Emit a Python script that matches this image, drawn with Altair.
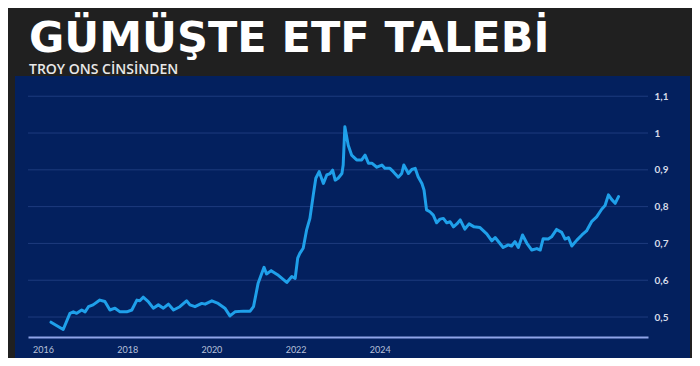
import altair as alt
import pandas as pd

# x values are in the chart's own axis units (as labelled in the picture)
t = [2016.19, 2016.48, 2016.64, 2016.72, 2016.80, 2016.92, 2017.00, 2017.08, 2017.19, 2017.35,
     2017.47, 2017.59, 2017.71, 2017.83, 2017.99, 2018.11, 2018.23, 2018.30, 2018.38, 2018.50,
     2018.62, 2018.74, 2018.86, 2018.98, 2019.10, 2019.25, 2019.41, 2019.49, 2019.61, 2019.77,
     2019.85, 2020.01, 2020.16, 2020.32, 2020.44, 2020.56, 2020.76, 2020.92, 2021.00, 2021.11,
     2021.25, 2021.31, 2021.42, 2021.57, 2021.79, 2021.91, 2021.99, 2022.05, 2022.10, 2022.18,
     2022.26, 2022.34, 2022.42, 2022.48, 2022.56, 2022.66, 2022.74, 2022.82, 2022.88, 2022.94,
     2023.01, 2023.10, 2023.13, 2023.17, 2023.25, 2023.33, 2023.45, 2023.57, 2023.65, 2023.73,
     2023.81, 2023.93, 2024.05, 2024.12, 2024.24, 2024.32, 2024.44, 2024.52, 2024.57, 2024.68,
     2024.76, 2024.84, 2024.91, 2025.00, 2025.05, 2025.11, 2025.19, 2025.27, 2025.35, 2025.43,
     2025.51, 2025.59, 2025.67, 2025.75, 2025.83, 2025.91, 2026.02, 2026.12, 2026.24, 2026.38,
     2026.54, 2026.66, 2026.74, 2026.93, 2027.05, 2027.13, 2027.21, 2027.29, 2027.39, 2027.49,
     2027.61, 2027.73, 2027.81, 2027.88, 2028.00, 2028.08, 2028.20, 2028.32, 2028.40, 2028.48,
     2028.56, 2028.68, 2028.80, 2028.91, 2029.03, 2029.15, 2029.27, 2029.35, 2029.43, 2029.51,
     2029.59, 2029.67]

troy_oz = [0.486, 0.466, 0.510, 0.514, 0.510, 0.519, 0.514, 0.528, 0.533, 0.546,
           0.542, 0.519, 0.524, 0.514, 0.514, 0.519, 0.546, 0.544, 0.554, 0.542,
           0.524, 0.533, 0.524, 0.535, 0.519, 0.528, 0.544, 0.533, 0.528, 0.537,
           0.535, 0.544, 0.537, 0.524, 0.503, 0.514, 0.516, 0.516, 0.528, 0.592,
           0.635, 0.617, 0.626, 0.615, 0.594, 0.610, 0.605, 0.660, 0.673, 0.687,
           0.736, 0.768, 0.832, 0.877, 0.895, 0.863, 0.886, 0.890, 0.899, 0.872,
           0.877, 0.890, 0.913, 1.017, 0.967, 0.940, 0.927, 0.927, 0.940, 0.918,
           0.918, 0.907, 0.913, 0.904, 0.904, 0.895, 0.880, 0.890, 0.913, 0.890,
           0.901, 0.904, 0.881, 0.863, 0.845, 0.791, 0.786, 0.777, 0.756, 0.766,
           0.768, 0.756, 0.759, 0.745, 0.753, 0.764, 0.739, 0.753, 0.745, 0.743,
           0.726, 0.707, 0.716, 0.689, 0.696, 0.693, 0.705, 0.689, 0.723, 0.701,
           0.682, 0.686, 0.682, 0.713, 0.712, 0.718, 0.738, 0.730, 0.712, 0.716,
           0.693, 0.709, 0.723, 0.734, 0.759, 0.772, 0.793, 0.803, 0.832, 0.819,
           0.809, 0.827]

y_ticks = [0.5, 0.6, 0.7, 0.8, 0.9, 1.0, 1.1]
x_ticks = [2016, 2018, 2020, 2022, 2024]

df = pd.DataFrame({"t": t, "v": troy_oz})

xscale = alt.Scale(domain=[2015.644, 2030.37], nice=False, zero=False)
yscale = alt.Scale(domain=[0.4457, 1.1305], nice=False, zero=False)

y_axis = alt.Axis(
    orient="right", values=y_ticks, title=None, grid=False, ticks=False,
    domain=False, labelFont="Lato", labelFontSize=10, labelFontWeight="bold",
    labelColor="#d6dbe8", labelPadding=6,
    labelExpr="replace(format(datum.value, '.1~f'), '.', ',')", zindex=1)

x_axis = alt.Axis(
    values=x_ticks, format="d", title=None, grid=False, ticks=False,
    labelFont="Lato", labelFontSize=9, labelColor="#b8c0da", labelPadding=8,
    domainColor="#8fa4e8", domainWidth=2, zindex=1)

panel = alt.Chart(pd.DataFrame({"a": [0]})).mark_rect(color="#03205e").encode(
    x=alt.value(-13), x2=alt.value(662), y=alt.value(-9), y2=alt.value(276)
)

grid = alt.Chart(pd.DataFrame({"g": y_ticks})).mark_rule(
    color="#1e3b7e", strokeWidth=1
).encode(y=alt.Y("g:Q", scale=yscale, axis=y_axis))

line = alt.Chart(df).mark_line(
    color="#1fa0ea", strokeWidth=3, strokeJoin="round", strokeCap="round"
).encode(
    x=alt.X("t:Q", scale=xscale, axis=x_axis),
    y=alt.Y("v:Q", scale=yscale, axis=y_axis),
)

chart = alt.layer(panel, grid, line).properties(
    width=620,
    height=252,
    title=alt.Title(
        "GÜMÜŞTE ETF TALEBİ",
        subtitle="TROY ONS CİNSİNDEN",
        anchor="start", frame="group",
        font="DejaVu Sans", fontSize=43, fontWeight="bold", color="#ffffff",
        subtitleFont="Open Sans", subtitleFontSize=14, subtitleFontWeight=600,
        subtitleColor="#e8e8e8", offset=-1, dx=1, subtitlePadding=2,
    ),
    padding={"left": 20, "top": 77, "right": 44, "bottom": 21},
    autosize="none",
    background="#202020",
).configure_view(stroke=None)

chart.save("out.html", embed_options={"renderer": "svg", "actions": False})
